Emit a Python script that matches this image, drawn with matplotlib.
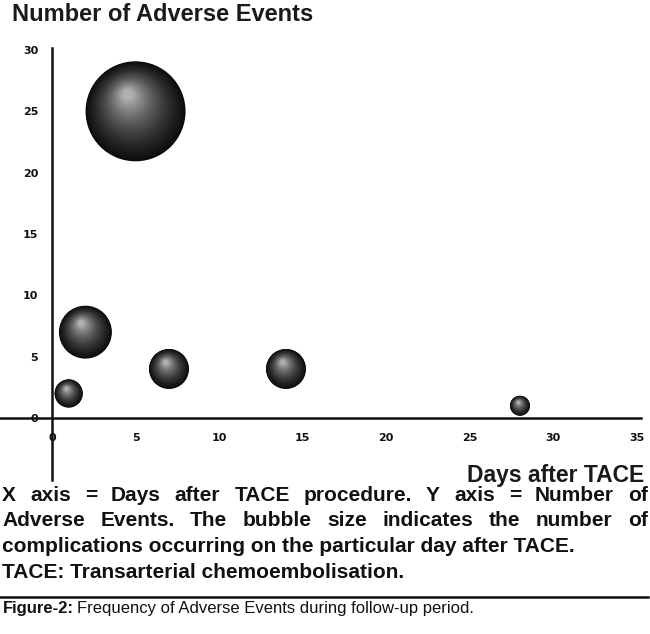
import matplotlib
matplotlib.use("Agg")
import matplotlib.pyplot as plt
import numpy as np
from matplotlib.patches import Circle
from matplotlib.transforms import ScaledTranslation

# data
days = [1, 2, 5, 7, 14, 28]
events = [2, 7, 25, 4, 4, 1]
bubble_size = [2, 7, 25, 4, 4, 1]
x_ticks = [0, 5, 10, 15, 20, 25, 30, 35]
y_ticks = [0, 5, 10, 15, 20, 25, 30]

caption_lines = [
    "X axis = Days after TACE procedure. Y axis = Number of",
    "Adverse Events. The bubble size indicates the number of",
    "complications occurring on the particular day after TACE.",
    "TACE: Transarterial chemoembolisation.",
]
font = "Liberation Sans"

W, H = 650, 634
fig = plt.figure(figsize=(6.5, 6.34), dpi=100)
fig.patch.set_facecolor("white")

# axes placed so that the spines land where they are in the picture
ax = fig.add_axes([0, (H - 480) / H, 641 / W, (480 - 48) / H])
ax.set_xlim(-3.11, 35.24)
ax.set_ylim(-5.05, 30.16)
for s in ["top", "right"]:
    ax.spines[s].set_visible(False)
ax.spines["left"].set_position(("data", 0))
ax.spines["bottom"].set_position(("data", 0))
for s in ["left", "bottom"]:
    ax.spines[s].set_linewidth(1.8)
    ax.spines[s].set_color("#111111")
ax.set_xticks(x_ticks)
ax.set_yticks(y_ticks)
ax.tick_params(length=0, labelsize=8)
ax.tick_params(axis="x", pad=11)
ax.tick_params(axis="y", pad=10)
for lab in ax.get_xticklabels() + ax.get_yticklabels():
    lab.set_fontweight("bold")
    lab.set_color("#111111")

# shaded spheres: stacked circles shrinking toward a highlight
n_layers = 50
for x, y, s in zip(days, events, bubble_size):
    r = 0.1 * np.sqrt(s)  # inches
    trans = fig.dpi_scale_trans + ScaledTranslation(x, y, ax.transData)
    for i in range(n_layers):
        t = i / (n_layers - 1)
        rad = r * (1 - 0.9 * t)
        cx = -0.16 * r * t
        cy = 0.34 * r * t
        g = 0.04 + 0.3 * t ** 0.8 + 0.35 * t ** 2.2
        ax.add_patch(Circle((cx, cy), rad, transform=trans,
                            facecolor=(g, g, g), edgecolor="none",
                            zorder=3 + i * 0.01, clip_on=False))

# titles
fig.text(12 / W, 1 - 21 / H, "Number of Adverse Events",
         family=font, fontweight="bold", fontsize=17,
         color="#1a1a1a", va="baseline", ha="left")
fig.text(644 / W, 1 - 482 / H, "Days after TACE",
         family=font, fontweight="bold", fontsize=16.5,
         color="#1a1a1a", va="baseline", ha="right")

# caption, first two lines justified
fig.canvas.draw()
renderer = fig.canvas.get_renderer()
baselines = [501, 526.5, 552, 578.5]
for k, line in enumerate(caption_lines):
    yb = 1 - baselines[k] / H
    if k < 2:
        words = line.split(" ")
        texts = [fig.text(0, yb, w, family=font, fontweight="bold",
                          fontsize=15, color="#111111", va="baseline")
                 for w in words]
        widths = [t.get_window_extent(renderer).width for t in texts]
        gap = (646 - sum(widths)) / (len(words) - 1)
        xpos = 2
        for t, wd in zip(texts, widths):
            t.set_x(xpos / W)
            xpos += wd + gap
    else:
        fig.text(2 / W, yb, line, family=font, fontweight="bold",
                 fontsize=15, color="#111111", va="baseline")

# rule and figure legend
fig.add_artist(plt.Line2D([0, 648 / W], [1 - 597 / H, 1 - 597 / H],
                          color="#111111", linewidth=1.8))
t1 = fig.text(3 / W, 1 - 613 / H, "Figure-2:", family=font,
              fontweight="bold", fontsize=12, color="#111111",
              va="baseline")
w1 = t1.get_window_extent(renderer).width
fig.text((3 + w1 + 3) / W, 1 - 613 / H,
         "Frequency of Adverse Events during follow-up period.",
         family=font, fontsize=12, color="#111111", va="baseline")

fig.savefig("out.png", dpi=100)
